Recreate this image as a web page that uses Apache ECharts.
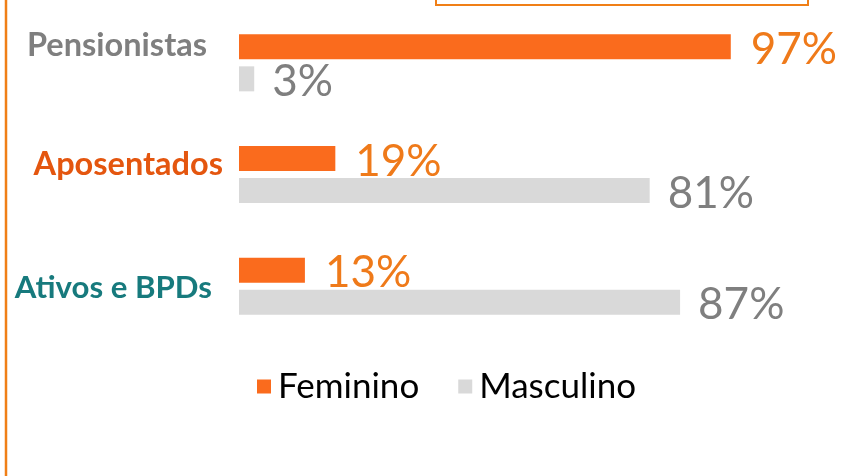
<!DOCTYPE html>
<html>
<head>
<meta charset="utf-8">
<script src="https://cdn.jsdelivr.net/npm/echarts@6/dist/echarts.min.js"></script>
<style>
  html, body { margin: 0; padding: 0; background: #fff; }
  #graph { width: 843px; height: 476px; }
</style>
</head>
<body>
<div id="graph"></div>
<script>
var categories = ['Pensionistas', 'Aposentados', 'Ativos e BPDs'];
var feminino = [97, 19, 13];
var masculino = [3, 81, 87];
var seriesNames = ['Feminino', 'Masculino'];

var dom = document.getElementById("graph");
var chart = echarts.init(dom);

// one rich style per category label (colour and small nudges)
var labelStyles = ['pens', 'apos', 'ativ'];

chart.setOption({
    animation: false,
    textStyle: { fontFamily: 'Lato' },
    grid: { left: 239, right: 97, top: 7, bottom: 134 },
    legend: {
        data: seriesNames,
        left: 252,
        top: 364,
        icon: 'rect',
        itemWidth: 14,
        itemHeight: 14,
        itemGap: 39,
        textStyle: { fontSize: 35, color: '#000', fontFamily: 'Lato', padding: [0, 0, 0, 2] }
    },
    xAxis: {
        type: 'value',
        min: 0,
        max: 100,
        show: false
    },
    yAxis: {
        type: 'category',
        data: categories,
        inverse: true,
        axisLine: { show: false },
        axisTick: { show: false },
        axisLabel: {
            margin: 16,
            formatter: function (value, idx) {
                return '{' + labelStyles[idx] + '|' + value + '}';
            },
            rich: {
                pens: { color: '#7F7F7F', fontSize: 32.5, fontWeight: 'bold', fontFamily: 'Lato', padding: [0, 16, 34, 0] },
                apos: { color: '#E4560F', fontSize: 32.5, fontWeight: 'bold', fontFamily: 'Lato', padding: [0, 0, 19, 0] },
                ativ: { color: '#177A7D', fontSize: 31.2, fontWeight: 'bold', fontFamily: 'Lato', padding: [4, 11, 0, 0] }
            }
        }
    },
    series: [
        {
            name: seriesNames[0],
            type: 'bar',
            data: feminino,
            barWidth: 25,
            barGap: '28%',
            itemStyle: { color: '#FA6B1D' },
            label: {
                show: true,
                position: 'right',
                distance: 20,
                offset: [0, 3],
                formatter: '{c}%',
                color: '#EF7A1A',
                fontSize: 44,
                fontFamily: 'Lato'
            }
        },
        {
            name: seriesNames[1],
            type: 'bar',
            data: masculino,
            barWidth: 25,
            itemStyle: { color: '#D9D9D9' },
            label: {
                show: true,
                position: 'right',
                distance: 18,
                offset: [0, 3],
                formatter: '{c}%',
                color: '#7F7F7F',
                fontSize: 44,
                fontFamily: 'Lato'
            }
        }
    ],
    graphic: [
        {
            type: 'line',
            shape: { x1: 6, y1: 0, x2: 6, y2: 476 },
            style: { stroke: '#F07F17', lineWidth: 2.5 }
        },
        {
            type: 'rect',
            shape: { x: 436, y: -20, width: 372, height: 25 },
            style: { fill: 'none', stroke: '#F07F17', lineWidth: 2 }
        }
    ]
});
</script>
</body>
</html>
